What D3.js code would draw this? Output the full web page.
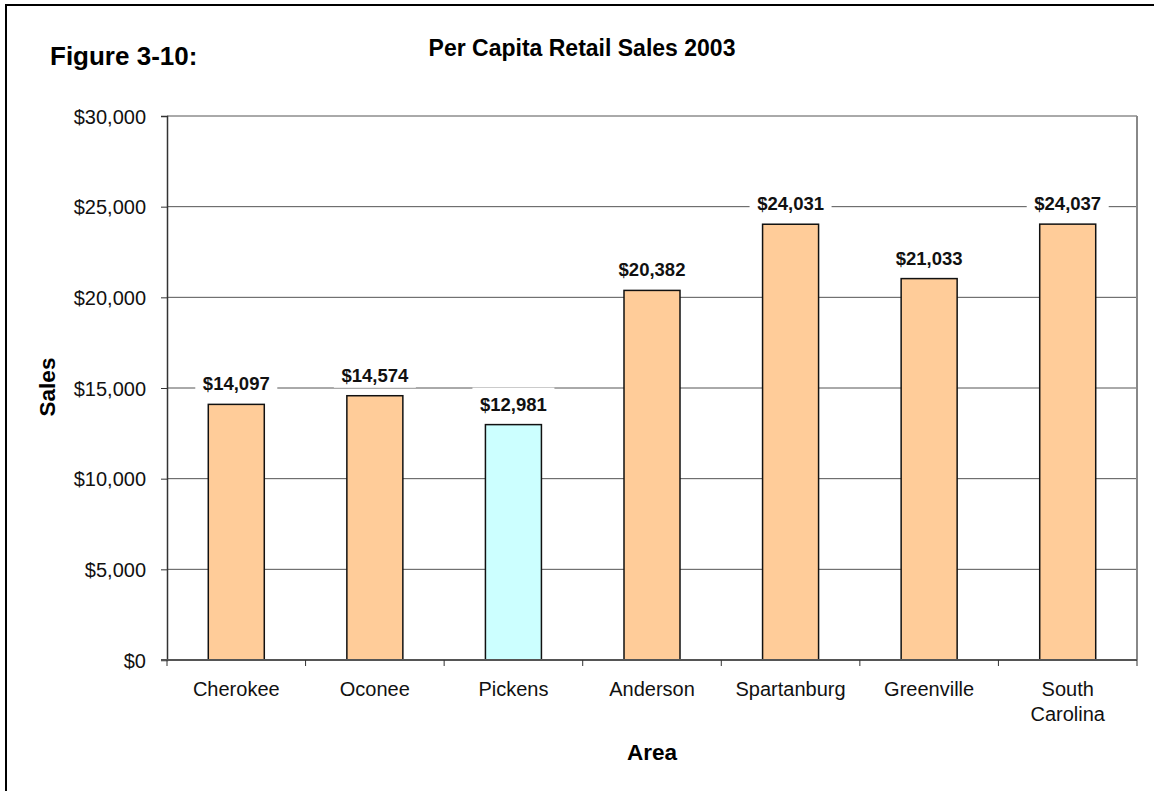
<!DOCTYPE html>
<html>
<head>
<meta charset="utf-8">
<script src="https://cdn.jsdelivr.net/npm/d3@7"></script>
<style>
  html, body { margin: 0; padding: 0; background: #fff; }
  svg { display: block; font-family: "Liberation Sans", Arial, sans-serif; }
</style>
</head>
<body>
<svg id="chart" width="1154" height="791"></svg>
<script>
const categories = ["Cherokee", "Oconee", "Pickens", "Anderson", "Spartanburg", "Greenville", "South Carolina"];
const values = [14097, 14574, 12981, 20382, 24031, 21033, 24037];
const highlight = ["Pickens"];
const yTicks = [0, 5000, 10000, 15000, 20000, 25000, 30000];

const svg = d3.select("#chart");
const W = 1154, H = 791;
const m = { left: 167, right: 1137, top: 116, bottom: 660 };

// outer border
svg.append("rect").attr("x", 6).attr("y", 5).attr("width", W + 10).attr("height", H + 10)
  .attr("fill", "#fff").attr("stroke", "#000").attr("stroke-width", 2);

const x = d3.scaleBand().domain(categories).range([m.left, m.right]).paddingInner(0).paddingOuter(0);
const y = d3.scaleLinear().domain([0, 30000]).range([m.bottom, m.top]);
const fmt = d3.format("$,");

// gridlines
svg.append("g").selectAll("line").data(yTicks.filter(d => d > 0)).join("line")
  .attr("x1", m.left).attr("x2", m.right)
  .attr("y1", d => y(d)).attr("y2", d => y(d))
  .attr("stroke", "#555").attr("stroke-width", 1);

// right plot border
svg.append("line").attr("x1", m.right).attr("x2", m.right).attr("y1", m.top).attr("y2", m.bottom)
  .attr("stroke", "#888").attr("stroke-width", 2);

// y axis
const yAxis = d3.axisLeft(y).tickValues(yTicks).tickFormat(fmt).tickSize(6).tickPadding(15);
const gy = svg.append("g").attr("transform", `translate(${m.left},0)`).call(yAxis);
gy.select(".domain").attr("stroke", "#333").attr("stroke-width", 1.5);
gy.selectAll(".tick line").attr("stroke", "#333");
gy.selectAll(".tick text").attr("font-size", 20).attr("fill", "#111")
  .attr("font-family", "Liberation Sans, Arial, sans-serif").attr("dy", "0.36em");

// bars
const bw = 56;
svg.append("g").selectAll("rect").data(categories).join("rect")
  .attr("x", d => x(d) + x.bandwidth() / 2 - bw / 2)
  .attr("width", bw)
  .attr("y", (d, i) => y(values[i]))
  .attr("height", (d, i) => y(0) - y(values[i]))
  .attr("fill", d => highlight.includes(d) ? "#CCFFFF" : "#FFCC99")
  .attr("stroke", "#111").attr("stroke-width", 1.5);

// x axis
const gx = svg.append("g").attr("transform", `translate(0,${m.bottom})`);
gx.append("line").attr("x1", m.left - 6).attr("x2", m.right).attr("y1", 0).attr("y2", 0)
  .attr("stroke", "#555").attr("stroke-width", 2);
const bounds = categories.map(d => x(d)).concat([m.right]);
gx.selectAll("line.tk").data(bounds).join("line").attr("class", "tk")
  .attr("x1", d => d).attr("x2", d => d).attr("y1", 0).attr("y2", 6)
  .attr("stroke", "#333").attr("stroke-width", 1);
const xl = gx.selectAll("text.cat").data(categories).join("text").attr("class", "cat")
  .attr("x", d => x(d) + x.bandwidth() / 2)
  .attr("y", 36)
  .attr("text-anchor", "middle").attr("font-size", 20).attr("fill", "#111");
xl.each(function(d) {
  const parts = d === "South Carolina" ? ["South", "Carolina"] : [d];
  const t = d3.select(this);
  parts.forEach((p, k) => t.append("tspan").attr("x", x(d) + x.bandwidth() / 2).attr("dy", k === 0 ? 0 : 25).text(p));
});

// value labels with white box
const lg = svg.append("g");
categories.forEach((c, i) => {
  const cx = x(c) + x.bandwidth() / 2;
  const by = y(values[i]) - 14;
  const g = lg.append("g");
  g.append("rect").attr("x", cx - 41).attr("y", by - 23).attr("width", 82).attr("height", 29).attr("fill", "#fff");
  g.append("text").attr("x", cx).attr("y", by).attr("text-anchor", "middle")
    .attr("font-size", 18.5).attr("font-weight", "bold").attr("fill", "#111").text(fmt(values[i]));
});

// titles
svg.append("text").attr("x", 50).attr("y", 65).attr("font-size", 26).attr("font-weight", "bold").attr("fill", "#000").text("Figure 3-10:");
svg.append("text").attr("x", 582).attr("y", 56).attr("text-anchor", "middle").attr("font-size", 23).attr("font-weight", "bold").attr("fill", "#000").text("Per Capita Retail Sales 2003");
svg.append("text").attr("x", 652).attr("y", 760).attr("text-anchor", "middle").attr("font-size", 22.5).attr("font-weight", "bold").attr("fill", "#000").text("Area");
svg.append("text").attr("transform", "translate(55,387) rotate(-90)").attr("text-anchor", "middle").attr("font-size", 22.5).attr("font-weight", "bold").attr("fill", "#000").text("Sales");
</script>
</body>
</html>
